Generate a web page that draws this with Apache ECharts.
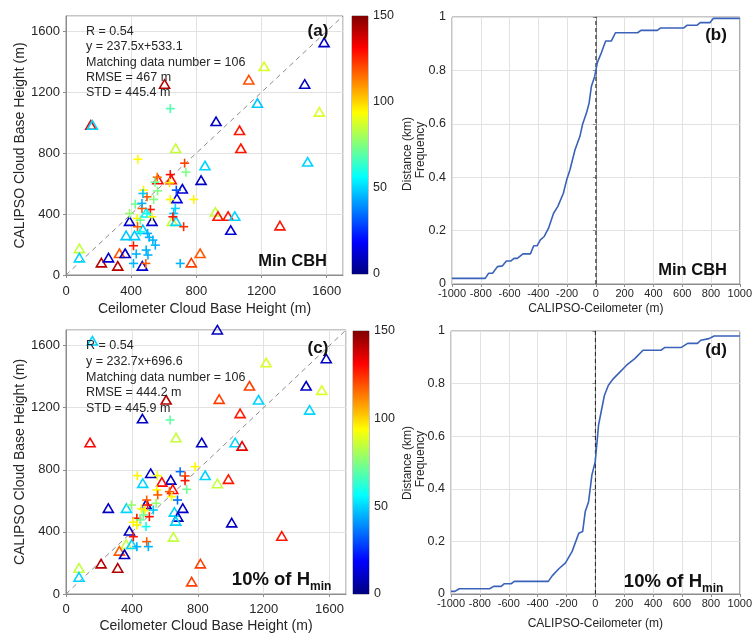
<!DOCTYPE html>
<html>
<head>
<meta charset="utf-8">
<script src="https://cdn.jsdelivr.net/npm/echarts@6/dist/echarts.min.js"></script>
<style>
  html, body { margin: 0; padding: 0; background: #fff; }
  #chart { width: 755px; height: 635px; }
</style>
</head>
<body>
<div id="chart"></div>
<script>
// ---- Data: [ceilometer CBH (m), CALIPSO CBH (m), colour value] ----
const minTriangles = [
  [1584,1522,10],[1216,1365,88],[1122,1277,120],[605,1249,142],[1465,1249,10],
  [1175,1124,48],[1555,1066,88],[152,980,135],[162,980,50],[921,1004,10],
  [1065,945,128],[1073,827,128],[673,827,85],[853,714,50],[1483,738,50],
  [829,618,10],[564,622,130],[646,622,130],[714,561,12],[681,498,15],
  [917,410,85],[933,382,128],[995,382,128],[1036,382,50],[1011,290,12],
  [1313,319,128],[390,349,12],[528,349,12],[652,349,85],[675,349,50],
  [369,255,48],[421,255,48],[472,295,48],[82,170,85],[82,109,50],
  [217,76,142],[261,109,12],[318,55,142],[328,138,118],[363,138,12],
  [468,55,12],[769,76,122],[823,138,118],[492,404,55]
];
const minCrosses = [
  [640,1092,68],[441,760,94],[728,734,122],[736,675,75],[560,642,115],
  [640,659,130],[636,605,98],[546,609,72],[562,552,75],[476,557,95],
  [497,513,118],[538,496,75],[472,535,48],[677,557,30],[640,496,95],
  [784,496,95],[425,465,72],[466,437,118],[518,430,128],[390,404,78],
  [497,404,58],[436,371,95],[456,360,72],[528,382,95],[671,437,50],
  [661,404,48],[656,382,128],[722,317,125],[439,317,118],[456,284,58],
  [501,273,45],[511,247,45],[533,229,45],[548,196,45],[414,192,128],
  [431,138,45],[492,164,45],[503,131,45],[414,76,45],[490,76,118],
  [701,76,45],[466,470,45]
];
const tenTriangles = [
  [919,1697,10],[160,1626,50],[1215,1486,88],[1580,1512,10],[1114,1336,122],
  [1458,1336,10],[1553,1308,88],[608,1246,142],[930,1250,122],[1169,1246,50],
  [1479,1181,50],[1057,1158,128],[464,1125,10],[668,1003,85],[146,971,132],
  [824,971,10],[1027,971,50],[1069,949,135],[514,773,10],[636,730,10],
  [466,709,50],[582,717,130],[845,760,50],[986,735,128],[919,707,85],
  [648,670,130],[257,548,10],[367,548,50],[486,573,10],[709,548,10],
  [658,524,50],[679,492,10],[666,466,50],[1006,455,10],[385,402,10],
  [652,363,85],[1310,369,128],[365,316,85],[399,316,50],[324,273,118],
  [355,251,10],[79,163,85],[79,105,50],[213,191,142],[314,163,142],
  [816,191,122],[763,75,122]
];
const tenCrosses = [
  [632,1121,70],[784,820,95],[433,762,95],[555,762,92],[693,788,35],
  [723,760,122],[723,730,128],[733,674,72],[551,670,95],[557,638,118],
  [628,659,118],[642,627,95],[547,584,78],[490,605,118],[496,573,128],
  [677,605,35],[397,573,78],[459,548,95],[480,537,95],[530,541,48],
  [430,488,128],[506,498,128],[470,509,72],[450,477,72],[409,462,95],
  [486,434,58],[409,369,128],[490,337,118],[430,305,45],[500,305,45],
  [430,445,95]
];

// ---- Cumulative frequency of CALIPSO - Ceilometer (m) ----
const minCdf = [
  [-1000,0.021],[-769,0.021],[-746,0.04],[-718,0.04],[-684,0.065],[-649,0.068],
  [-622,0.086],[-592,0.086],[-569,0.096],[-546,0.096],[-507,0.113],[-455,0.113],
  [-432,0.143],[-409,0.143],[-386,0.165],[-359,0.178],[-329,0.209],[-294,0.265],
  [-265,0.29],[-226,0.34],[-203,0.39],[-180,0.428],[-145,0.503],[-111,0.553],
  [-93,0.597],[-65,0.641],[-47,0.678],[-31,0.741],[-8,0.778],[10,0.829],
  [38,0.866],[68,0.91],[107,0.91],[136,0.941],[290,0.941],[313,0.95],
  [427,0.95],[450,0.959],[611,0.959],[633,0.969],[702,0.969],[725,0.979],
  [794,0.979],[817,0.995],[1000,0.995]
];
const tenCdf = [
  [-1000,0.010],[-973,0.010],[-943,0.020],[-733,0.020],[-705,0.029],[-653,0.029],
  [-630,0.039],[-584,0.039],[-561,0.048],[-326,0.048],[-298,0.07],[-253,0.096],
  [-207,0.118],[-161,0.162],[-115,0.231],[-88,0.238],[-70,0.314],[-47,0.351],
  [-24,0.453],[-1,0.503],[22,0.642],[40,0.693],[63,0.756],[90,0.794],
  [125,0.819],[159,0.838],[216,0.87],[273,0.895],[330,0.927],[456,0.927],
  [479,0.937],[593,0.937],[639,0.953],[707,0.953],[730,0.965],[787,0.971],
  [822,0.981],[1000,0.981]
];

// ---- Axis ranges, reference lines and annotations ----
const cbhRange = [0, 1700];
const cbhStep = 400;
const diffRange = [-1000, 1000];
const diffStep = 200;
const colorRange = [0, 150];
const colorStep = 50;
const zeroDiff = 0;
const statsMin = ['R = 0.54', 'y = 237.5x+533.1', 'Matching data number = 106', 'RMSE = 467 m', 'STD = 445.4 m'];
const statsTen = ['R = 0.54', 'y = 232.7x+696.6', 'Matching data number = 106', 'RMSE = 444.2 m', 'STD = 445.9 m'];

// MATLAB-style "jet" colormap, evenly spaced stops
const JET = ['#000080','#0000FF','#0080FF','#00FFFF','#80FF80','#FFFF00','#FF8000','#FF0000','#800000'];

const FONT = '"Liberation Sans", Arial, Helvetica, sans-serif';
const TXT = '#262626';
const GRIDLINE = '#e2e2e2';
const BOX = '#8c8c8c';
const plain = v => String(v);

const chart = echarts.init(document.getElementById('chart'), null, { renderer: 'canvas' });

function valueAxis(gridIndex, range, step, extra) {
  return Object.assign({
    type: 'value', gridIndex, min: range[0], max: range[1], interval: step,
    axisLine: { show: true, lineStyle: { color: BOX, width: 1 } },
    axisTick: { show: true, inside: false, length: 3, lineStyle: { color: BOX } },
    splitLine: { show: true, lineStyle: { color: GRIDLINE, width: 1 } },
    axisLabel: { color: TXT, fontFamily: FONT, fontSize: 13, formatter: plain },
    nameTextStyle: { color: TXT, fontFamily: FONT, fontSize: 14 }
  }, extra || {});
}

function cbhAxis(gridIndex, nameText, nameGap, labelMargin) {
  return valueAxis(gridIndex, cbhRange, cbhStep, {
    name: nameText, nameLocation: 'middle', nameGap,
    axisLabel: { color: TXT, fontFamily: FONT, fontSize: 13, margin: labelMargin, showMaxLabel: false, formatter: plain }
  });
}

function colorAxis(gridIndex) {
  return valueAxis(gridIndex, colorRange, colorStep, {
    position: 'right',
    axisLine: { show: false },
    axisTick: { show: false },
    splitLine: { show: false },
    axisLabel: { color: TXT, fontFamily: FONT, fontSize: 12.5, margin: 5, formatter: plain }
  });
}

function diffAxis(gridIndex, nameGap) {
  return valueAxis(gridIndex, diffRange, diffStep, {
    name: 'CALIPSO-Ceilometer (m)', nameLocation: 'middle', nameGap,
    nameTextStyle: { color: TXT, fontFamily: FONT, fontSize: 12 },
    axisLabel: { color: TXT, fontFamily: FONT, fontSize: 11, margin: 4, showMinLabel: true, showMaxLabel: true, formatter: plain }
  });
}

function freqAxis(gridIndex) {
  return valueAxis(gridIndex, [0, 1], 0.2, {
    axisLabel: { color: TXT, fontFamily: FONT, fontSize: 12.5, margin: 6, formatter: plain }
  });
}

function hiddenCat(gridIndex) {
  return { type: 'category', gridIndex, data: ['cb'], show: false };
}

function triangleItem(params, api) {
  const p = api.coord([api.value(0), api.value(1)]);
  const c = api.visual('color');
  return {
    type: 'polygon',
    shape: { points: [[p[0], p[1] - 5], [p[0] + 5, p[1] + 3.5], [p[0] - 5, p[1] + 3.5]] },
    style: { fill: 'none', stroke: c, lineWidth: 1.6 }
  };
}

function crossItem(params, api) {
  const p = api.coord([api.value(0), api.value(1)]);
  const c = api.visual('color');
  const r = 4.5;
  return {
    type: 'group',
    children: [
      { type: 'line', shape: { x1: p[0] - r, y1: p[1], x2: p[0] + r, y2: p[1] }, style: { stroke: c, lineWidth: 1.6 } },
      { type: 'line', shape: { x1: p[0], y1: p[1] - r, x2: p[0], y2: p[1] + r }, style: { stroke: c, lineWidth: 1.6 } }
    ]
  };
}

function markerSeries(axisIndex, data, renderItem) {
  return { type: 'custom', xAxisIndex: axisIndex, yAxisIndex: axisIndex, data, renderItem, clip: false, z: 3 };
}

function lineSeries(axisIndex, data, style, z) {
  return {
    type: 'line', xAxisIndex: axisIndex, yAxisIndex: axisIndex, data,
    showSymbol: false, symbol: 'none', silent: true, z: z || 2,
    lineStyle: style
  };
}

const jetGradient = new echarts.graphic.LinearGradient(0, 1, 0, 0,
  JET.map((c, i) => ({ offset: i / (JET.length - 1), color: c })));

function colorbarSeries(axisIndex) {
  return {
    type: 'bar', xAxisIndex: axisIndex, yAxisIndex: axisIndex, data: [colorRange[1]],
    barWidth: '100%', silent: true, itemStyle: { color: jetGradient }
  };
}

function label(x, y, text, size, align) {
  return {
    type: 'text', x, y, silent: true, z: 100,
    style: { text, fontFamily: FONT, fontSize: size, fontWeight: 'bold', fill: '#111', align: align || 'center', verticalAlign: 'middle' }
  };
}

function statsBlock(x, y, lines, lh) {
  return {
    type: 'text', x, y, silent: true, z: 100,
    style: { text: lines.join('\n'), fontFamily: FONT, fontSize: 12.5, lineHeight: lh, fill: TXT, align: 'left', verticalAlign: 'top' }
  };
}

function vText(x, y, text) {
  return {
    type: 'text', x, y, rotation: Math.PI / 2, silent: true, z: 100,
    style: { text, fontFamily: FONT, fontSize: 12, fill: TXT, align: 'center', verticalAlign: 'middle' }
  };
}

const diag = [[cbhRange[0], cbhRange[0]], [cbhRange[1], cbhRange[1]]];
const zeroLine = [[zeroDiff, 0], [zeroDiff, 1]];
const diagStyle = { color: '#8a8a8a', width: 1, type: [5, 4] };
const zeroStyle = { color: '#222', width: 1, type: [4, 3] };
const cdfStyle = { color: '#3A62B8', width: 1.6 };

const option = {
  animation: false,
  backgroundColor: '#fff',
  grid: [
    { left: 66, top: 16, width: 277, height: 259, show: true, borderColor: BOX, borderWidth: 1 },
    { left: 352, top: 16, width: 16, height: 258, show: true, borderColor: BOX, borderWidth: 1 },
    { left: 66, top: 330, width: 280, height: 264, show: true, borderColor: BOX, borderWidth: 1 },
    { left: 353, top: 331, width: 16, height: 263, show: true, borderColor: BOX, borderWidth: 1 },
    { left: 452, top: 17, width: 291, height: 267, show: true, borderColor: BOX, borderWidth: 1 },
    { left: 451, top: 331, width: 292, height: 263, show: true, borderColor: BOX, borderWidth: 1 }
  ],
  xAxis: [
    cbhAxis(0, 'Ceilometer Cloud Base Height (m)', 27, 10),
    hiddenCat(1),
    cbhAxis(2, 'Ceilometer Cloud Base Height (m)', 25, 9),
    hiddenCat(3),
    diffAxis(4, 19),
    diffAxis(5, 24)
  ],
  yAxis: [
    cbhAxis(0, 'CALIPSO Cloud Base Height (m)', 39, 6),
    colorAxis(1),
    cbhAxis(2, 'CALIPSO Cloud Base Height (m)', 39, 6),
    colorAxis(3),
    freqAxis(4),
    freqAxis(5)
  ],
  visualMap: [{
    type: 'continuous', show: false, dimension: 2,
    min: colorRange[0], max: colorRange[1],
    seriesIndex: [2, 3, 4, 5],
    inRange: { color: JET }
  }],
  series: [
    lineSeries(0, diag, diagStyle, 1),
    lineSeries(2, diag, diagStyle, 1),
    markerSeries(0, minTriangles, triangleItem),
    markerSeries(0, minCrosses, crossItem),
    markerSeries(2, tenTriangles, triangleItem),
    markerSeries(2, tenCrosses, crossItem),
    colorbarSeries(1),
    colorbarSeries(3),
    lineSeries(4, zeroLine, zeroStyle, 1),
    lineSeries(4, minCdf, cdfStyle, 2),
    lineSeries(5, zeroLine, zeroStyle, 1),
    lineSeries(5, tenCdf, cdfStyle, 2)
  ],
  graphic: [
    statsBlock(86, 24, statsMin, 15.3),
    statsBlock(86, 338, statsTen, 15.7),
    label(318, 31, '(a)', 17),
    label(327, 261, 'Min CBH', 16.5, 'right'),
    label(318, 348, '(c)', 17),
    label(310, 580, '10% of H', 18.5, 'right'),
    label(310, 587, 'min', 12, 'left'),
    label(716, 35, '(b)', 17),
    label(727, 270, 'Min CBH', 16.5, 'right'),
    label(716, 350, '(d)', 17),
    label(702, 582, '10% of H', 18.5, 'right'),
    label(702, 589, 'min', 12, 'left'),
    vText(408, 154, 'Distance (km)'),
    vText(421, 150, 'Frequency'),
    vText(408, 463, 'Distance (km)'),
    vText(421, 459, 'Frequency')
  ]
};

chart.setOption(option);
</script>
</body>
</html>
